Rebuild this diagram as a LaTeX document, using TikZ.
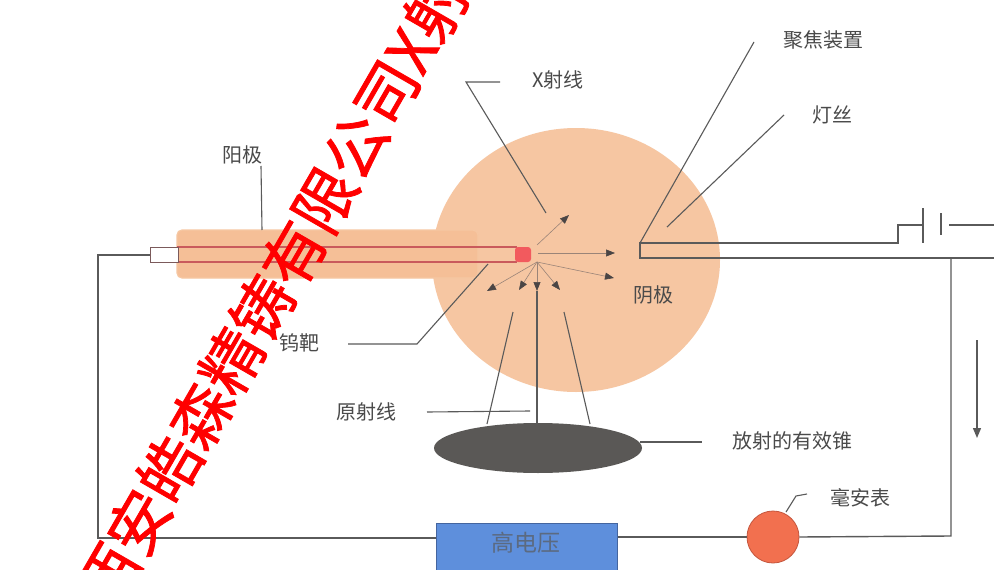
\documentclass[tikz,border=0pt]{standalone}
\usepackage{fontspec}
\newfontfamily\cjk{Noto Sans CJK SC}
\newfontfamily\markfont[FakeBold=1.2]{Noto Sans CJK SC}
\usetikzlibrary{arrows.meta,shapes.geometric}

\definecolor{peach}{HTML}{F6C6A2}
\definecolor{anodefill}{HTML}{F5BF97}
\definecolor{anodeedge}{HTML}{FBE6CF}
\definecolor{tubered}{HTML}{C95A5C}
\definecolor{targetred}{HTML}{F25A5E}
\definecolor{wiregray}{HTML}{5A5A5A}
\definecolor{raygray}{HTML}{9A8478}
\definecolor{tipgray}{HTML}{4A4545}
\definecolor{labelgray}{HTML}{4A4A4A}
\definecolor{conegray}{HTML}{5A5856}
\definecolor{hvblue}{HTML}{5E8FDC}
\definecolor{hvedge}{HTML}{44659F}
\definecolor{meterred}{HTML}{F2704F}
\definecolor{meteredge}{HTML}{C4553C}

\begin{document}
\begin{tikzpicture}[x=1pt,y=-1pt,
    lbl/.style={font=\cjk\fontsize{20}{21}\selectfont,text=labelgray,inner sep=0pt},
    wire/.style={draw=wiregray,line width=1.4pt},
    lead/.style={draw=wiregray,line width=1.1pt},
    ray/.style={draw=raygray,line width=0.6pt,-{Triangle[length=9pt,width=7pt,color=tipgray]}},
    watermark/.style={font=\markfont\fontsize{62}{62}\selectfont,text=red,inner sep=0pt}]
\useasboundingbox (0,0) rectangle (994,570);
\clip (0,0) rectangle (994,570);
\fill[white] (0,0) rectangle (994,570);

% tube body
\fill[peach] (576,260) ellipse [x radius=144,y radius=132];
\draw[anodefill!80!anodeedge,fill=anodefill,line width=1.2pt,rounded corners=5pt] (177,230) rectangle (478,278);
\draw[tubered,line width=1.2pt] (177,247) -- (517,247);
\draw[tubered,line width=1.2pt] (177,262) -- (517,262);
\draw[fill=white,draw=wiregray!70!tubered,line width=1pt] (150,247) rectangle (178,262);
\fill[targetred,rounded corners=3pt] (515,247) rectangle (531,262);

% cathode and focusing cup
\coordinate (cupA) at (640,243);
\coordinate (cupB) at (640,258);
\draw[wire] (994,258) -- (cupB) -- (cupA) -- (898,243) -- (898,225) -- (923,225);
\draw[wire] (923,208) -- (923,243);
\draw[wire] (941,213) -- (941,235);
\draw[wire] (949,225) -- (994,225);

% emitted rays
\coordinate (focus) at (537,262);
\draw[ray] (537,245) -- (569,215);
\draw[ray] (538,253) -- (615,253);
\draw[ray] (focus) -- (614,278);
\draw[ray] (focus) -- (487,291);
\draw[ray] (focus) -- (519,290);
\draw[ray] (focus) -- (560,290);
\draw[ray] (focus) -- (537,291);

% useful beam
\node[ellipse,fill=conegray,minimum width=208,minimum height=50,inner sep=0pt] (cone) at (538,448) {};
\draw[lead] (513,312) -- (487,424);
\draw[lead] (537,291) -- (537,424);
\draw[lead] (564,312) -- (590,424);

% circuit
\node[draw=hvedge,fill=hvblue,line width=1pt,minimum width=181,minimum height=60,anchor=north west,inner sep=0pt] (hv) at (436,523) {};
\node[font=\cjk\fontsize{23}{24}\selectfont,text=wiregray!70!hvblue] (hvtext) at (526,543) {高电压};
\node[circle,draw=meteredge,fill=meterred,line width=0.8pt,minimum size=52,inner sep=0pt] (meter) at (773,537) {};
\draw[wire] (150,255) -- (98,255) -- (98,538) -- (hv.west |- 0,538);
\draw[wire] (hv.east |- 0,537) -- (meter.west);
\draw[wire] (meter.east) -- (951,536) -- (951,258);
\draw[wiregray,line width=1.4pt,-{Triangle[length=10pt,width=8pt]}] (977,340) -- (977,438);

% labels
\node[lbl] (anode) at (242,155) {阳极};
\node[lbl] (target) at (299,343) {钨靶};
\node[lbl] (xray) at (558,80) {X射线};
\node[lbl] (cup) at (823,40) {聚焦装置};
\node[lbl] (filament) at (832,115) {灯丝};
\node[lbl] (cathode) at (653,295) {阴极};
\node[lbl] (primary) at (366,412) {原射线};
\node[lbl] (usecone) at (792,441) {放射的有效锥};
\node[lbl] (mA) at (860,498) {毫安表};

\draw[lead] (261,166) -- (262,230);
\draw[lead] (348,344) -- (417,344) -- (488,264);
\draw[lead] (500,82) -- (466,82) -- (546,213);
\draw[lead] (754,42) -- (cupA);
\draw[lead] (784,115) -- (667,227);
\draw[lead] (427,412) -- (530,411);
\draw[lead] (640,442) -- (702,442);
\draw[lead] (786,512) -- (796,496) -- (807,494);

\node[watermark,rotate=60,anchor=west] (mark) at (92,603) {西安皓森精铸有限公司X射};
\end{tikzpicture}
\end{document}
